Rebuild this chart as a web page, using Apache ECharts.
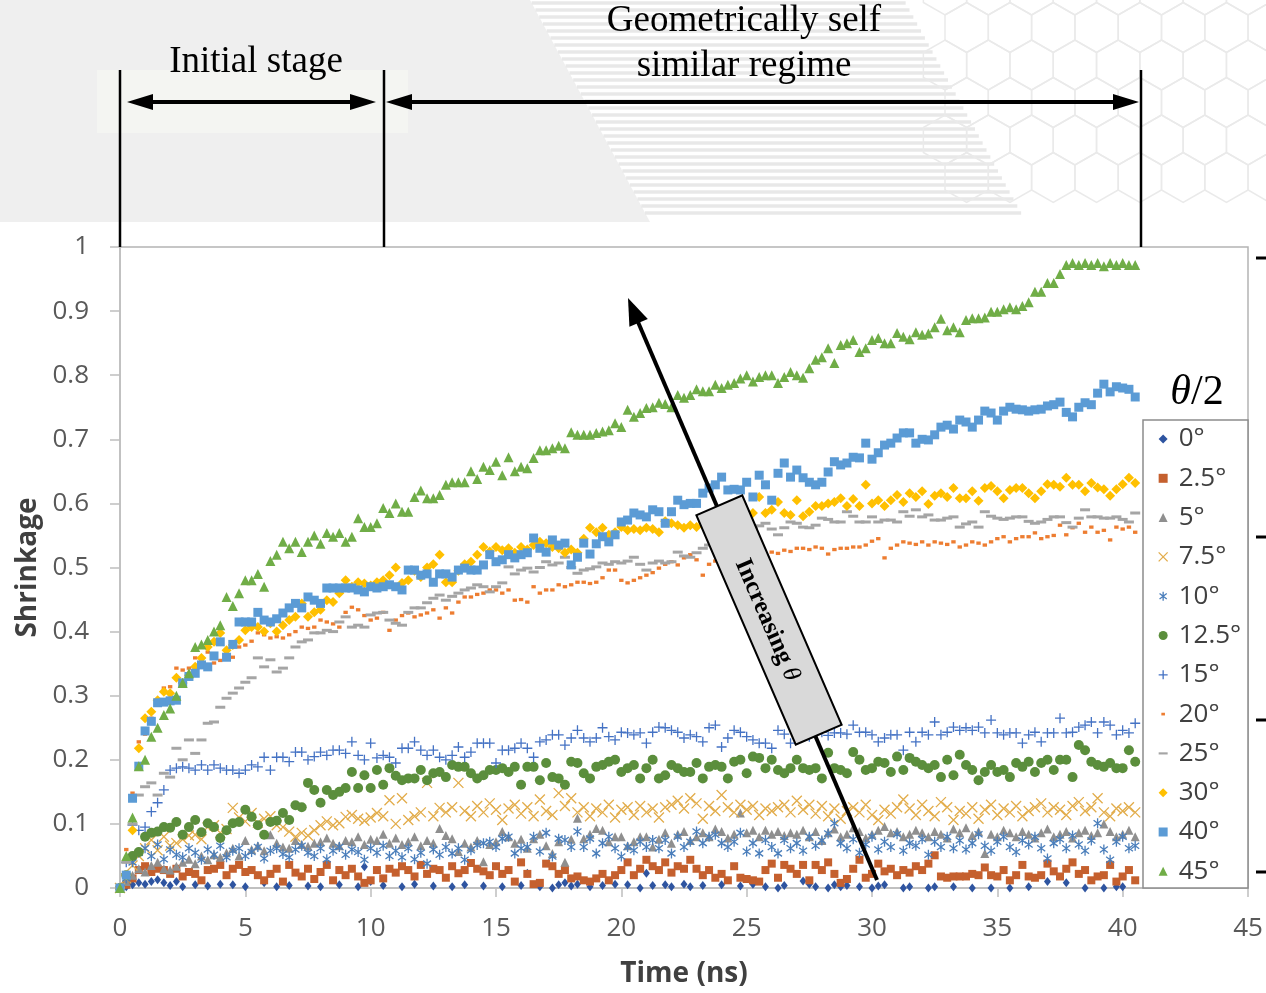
<!DOCTYPE html>
<html>
<head>
<meta charset="utf-8">
<title>Shrinkage vs time</title>
<script src="https://cdn.jsdelivr.net/npm/echarts@6/dist/echarts.min.js"></script>
<style>
  html, body { margin: 0; padding: 0; background: #fff; }
  #chart { width: 1266px; height: 993px; }
</style>
</head>
<body>
<div id="chart"></div>
<script>
// samples every DT ns, values in thousandths of shrinkage (negative ones fall below the axis)
const DT = 0.25;

const s0 = [
  0,2,5,8,6,10,13,8,4,10,2,-5,5,-5,3,-5,6,-5,5,-5,
  2,-5,-5,8,-5,2,-5,4,-5,-5,3,-5,2,-5,-5,5,-5,-5,2,33,
  10,-5,4,-5,-5,2,-5,6,-5,-5,3,-5,-5,2,-5,5,-5,-5,3,-5,
  -5,2,-5,-5,4,23,-5,2,-5,0,5,8,3,6,-5,2,-5,4,-5,6,
  -5,5,-5,0,23,4,-5,5,2,-5,6,2,-5,4,-5,-5,5,-5,-5,3,
  -5,6,-5,2,-5,0,4,-5,-5,11,6,2,-5,0,5,2,4,-5,2,-5,
  0,3,5,-5,-5,0,2,-5,-5,0,2,-5,-5,2,-5,-5,0,-5,-5,0,
  -5,-5,0,-5,-5,2,-5,-5,10,-5,-5,8,-5,-5,0,-5,-5,0,-5,2,
  2,-5,-5
];
const s2_5 = [
  0,5,15,28,34,25,30,28,22,30,18,25,22,12,28,30,36,20,30,36,
  25,28,20,12,22,30,10,36,24,18,30,14,25,36,12,28,20,30,18,8,
  12,28,15,30,24,34,28,18,36,22,30,28,16,34,23,28,39,30,26,20,
  34,22,28,10,40,22,6,8,38,34,22,28,15,18,12,10,15,22,12,20,
  28,40,20,30,44,34,28,40,24,34,30,44,30,20,28,16,22,12,34,16,
  14,12,10,28,38,16,36,30,22,36,12,36,28,40,22,8,14,30,44,16,
  22,38,26,30,20,28,24,34,28,38,51,18,16,18,18,18,22,20,32,20,
  18,28,12,20,36,18,16,20,38,26,18,30,40,22,28,12,18,20,36,10,
  18,28,12
];
const s5 = [
  0,10,20,30,25,35,40,30,28,34,40,45,38,50,44,52,48,55,62,50,
  74,60,66,58,83,70,64,62,74,68,65,70,72,78,70,66,74,72,80,68,
  76,74,84,70,78,68,72,80,66,74,70,93,82,77,57,70,64,74,41,68,
  72,88,80,70,76,62,77,84,66,54,72,40,76,109,77,84,93,90,72,80,
  80,66,72,80,80,64,76,86,70,84,88,74,80,86,80,92,88,78,84,117,
  86,90,80,90,84,88,82,86,84,90,80,88,74,86,92,80,84,94,88,78,
  84,90,96,86,88,80,84,90,86,80,88,84,78,92,86,94,82,88,54,84,
  80,90,86,80,88,84,78,86,92,80,84,88,78,86,90,82,86,100,88,80,
  84,90,80
];
const s7_5 = [
  0,15,35,50,62,75,59,80,66,70,76,82,83,76,95,98,86,92,125,110,
  104,117,102,108,112,98,95,88,80,86,82,90,98,104,98,101,111,114,108,105,
  110,117,112,137,100,140,106,112,118,164,112,125,118,126,164,120,112,128,118,132,
  122,106,124,130,116,126,112,138,120,114,148,128,140,118,126,112,124,118,130,110,
  122,126,114,128,118,124,110,126,130,136,124,140,132,108,128,120,145,126,118,130,
  122,128,114,124,120,126,130,118,136,122,130,116,128,112,124,108,120,126,118,130,
  114,106,122,116,126,138,124,114,130,120,112,134,126,106,120,116,126,108,122,130,
  114,124,118,128,112,120,126,132,118,126,122,114,128,134,120,126,140,118,112,124,
  120,126,118
];
const s10 = [
  0,15,40,55,62,50,68,45,60,52,48,62,55,44,60,52,66,48,58,62,
  50,56,64,46,58,62,53,48,60,66,55,50,62,45,58,64,52,60,56,44,
  62,55,66,50,58,48,62,45,55,38,60,52,64,54,62,44,59,67,70,72,
  64,77,80,54,62,64,80,57,86,49,77,75,64,88,64,77,54,70,80,62,
  49,64,59,72,64,75,62,75,54,80,64,72,88,70,80,83,70,64,72,86,
  57,70,54,75,64,54,75,62,70,58,80,66,74,85,101,70,62,76,55,68,
  80,60,72,64,84,58,70,66,76,52,72,64,80,62,74,60,70,84,66,58,
  72,80,64,56,74,68,80,62,46,70,76,62,82,68,58,74,101,60,44,72,
  80,62,66
];
const s12_5 = [
  0,20,50,56,80,86,88,95,94,103,83,95,106,87,101,95,78,90,101,103,
  122,111,98,83,103,105,117,106,129,126,164,153,133,153,145,150,156,181,156,176,
  156,184,161,187,175,168,171,171,184,168,179,181,173,192,189,189,179,171,176,184,
  184,187,181,189,161,189,189,168,195,173,171,161,197,195,179,171,189,192,197,200,
  181,187,192,171,187,200,171,176,192,187,181,181,195,171,189,192,189,171,197,200,
  179,205,203,187,200,184,179,187,200,187,184,187,171,211,187,184,179,212,200,184,
  187,197,195,181,205,184,203,197,192,187,192,173,200,176,208,192,184,168,181,192,
  181,184,173,195,189,197,181,195,200,184,200,200,173,223,215,197,192,189,195,187,
  187,215,197
];
const s15 = [
  0,40,98,90,95,119,133,153,184,187,189,187,184,192,184,192,187,184,184,179,
  184,192,189,204,184,204,204,197,212,212,200,205,212,207,215,215,210,228,207,200,
  226,203,207,204,195,218,218,228,215,207,215,204,200,207,220,204,212,226,226,226,
  195,215,215,218,226,218,204,228,231,239,239,223,234,246,234,228,234,250,236,231,
  243,242,239,242,226,243,251,250,246,243,234,239,236,228,250,254,220,234,246,243,
  236,231,226,226,218,246,240,226,238,242,236,240,243,238,242,242,240,254,243,243,
  239,228,234,239,239,215,243,228,243,239,259,239,243,251,246,250,246,251,242,262,
  242,239,242,242,226,239,243,228,242,242,265,242,243,251,254,259,242,259,254,239,
  246,242,257
];
const s20 = [
  0,60,148,228,240,265,290,312,314,343,340,343,359,355,368,351,355,358,360,376,
  379,385,398,395,390,392,390,395,400,407,405,407,418,415,412,407,430,438,434,425,
  418,421,430,402,418,425,429,423,426,429,434,421,437,429,446,454,454,458,460,465,
  465,460,465,449,450,446,470,460,465,465,473,470,473,477,477,475,477,484,496,496,
  480,476,480,484,488,492,499,505,509,504,515,520,512,488,505,510,512,515,518,515,
  520,518,521,520,524,522,527,525,530,530,528,532,530,521,528,530,530,532,532,535,
  541,545,515,530,535,540,538,536,540,535,540,538,536,540,532,535,540,538,535,540,
  545,548,540,545,548,548,554,545,548,550,566,551,562,569,555,563,555,558,543,563,
  560,563,555
];
const s25 = [
  0,40,100,145,158,164,145,179,173,218,200,231,210,231,257,259,282,296,304,312,
  321,328,359,345,356,337,343,359,376,384,387,398,398,402,400,415,423,407,410,407,
  426,429,430,418,413,410,430,437,437,445,452,457,449,455,460,465,468,473,470,462,
  470,476,501,490,496,499,493,500,509,504,507,516,500,491,496,498,501,507,505,509,
  507,510,516,505,496,507,510,507,509,524,518,516,523,530,535,540,545,548,555,560,
  558,562,565,569,560,551,562,571,569,563,562,566,577,575,571,571,587,580,571,571,
  579,571,574,574,571,587,580,590,579,582,574,574,577,579,563,568,571,563,587,580,
  577,575,577,579,579,572,569,571,575,579,579,570,563,577,590,579,579,577,577,579,
  575,571,585
];
const s30 = [
  0,20,90,218,265,275,293,306,304,328,320,332,345,359,376,384,398,371,379,387,
  402,407,407,400,413,400,410,418,423,444,423,430,434,449,446,460,480,470,477,475,
  472,477,480,488,500,476,480,495,485,500,505,520,477,477,495,505,509,520,532,525,
  532,527,530,523,532,528,535,540,538,532,530,523,528,523,545,562,555,562,551,555,
  563,558,560,558,562,560,555,572,569,566,562,566,563,570,575,572,578,575,580,578,
  582,585,610,585,590,602,585,582,605,580,587,596,596,600,602,608,596,607,596,629,
  600,605,596,605,613,602,616,610,619,599,612,616,610,624,608,608,619,604,624,627,
  619,608,621,624,624,616,608,619,630,629,626,640,629,629,619,632,625,622,612,622,
  630,640,632
];
const s40 = [
  0,20,140,190,245,260,289,290,292,293,320,330,335,348,345,362,384,360,380,415,
  415,415,430,418,415,420,429,437,444,437,454,449,444,468,468,468,468,468,465,462,
  470,468,470,473,470,465,496,496,488,490,477,490,490,485,496,499,496,496,504,520,
  509,512,520,515,520,523,546,530,524,543,535,538,504,516,538,521,537,548,540,551,
  571,574,585,582,579,590,587,569,587,605,598,600,600,616,624,629,641,621,622,621,
  633,610,644,629,605,647,663,641,652,640,633,629,633,649,665,660,663,672,671,694,
  669,679,691,694,702,710,710,694,700,699,707,719,722,716,730,727,719,730,744,741,
  730,744,750,747,746,744,746,747,752,754,758,742,735,750,757,754,772,786,774,782,
  780,778,766
];
const s45 = [
  0,50,110,190,200,236,250,270,280,300,320,335,376,380,387,400,410,454,440,460,
  480,480,490,470,510,520,540,530,540,524,540,550,537,554,548,554,540,548,577,563,
  563,569,593,585,600,587,587,610,620,608,608,613,629,633,633,633,650,638,657,652,
  665,644,672,650,657,655,671,683,683,686,690,686,711,707,707,707,710,712,714,725,
  719,746,735,741,749,750,757,755,750,769,765,769,778,775,775,785,780,785,788,795,
  800,790,797,800,800,788,797,805,800,796,811,824,828,842,819,847,850,855,836,842,
  855,858,850,850,866,860,856,867,863,865,875,888,870,875,867,886,889,889,890,899,
  899,903,906,903,908,914,930,930,944,944,958,972,975,972,975,972,975,970,975,972,
  975,972,972
];

const SYM_X = 'path://M0,0L10,10M10,0L0,10';
const SYM_PLUS = 'path://M5,0L5,10M0,5L10,5';
const SYM_STAR = 'path://M0,0M10,10M1,2L9,8M9,2L1,8M5,0L5,10';
const SYM_DOT = 'path://M0,0M10,10M3,3.5H7V6.5H3Z';
const SYM_DASH = 'path://M0,0M10,10M0,3.8H10V6.2H0Z';

const seriesSpec = [
  { name: '0°',    vals: s0,    symbol: 'diamond',  size: [7, 9],  icon: 'diamond',  color: '#2E54A0' },
  { name: '2.5°',  vals: s2_5,  symbol: 'rect',     size: 8,       icon: 'rect',     color: '#C5602E' },
  { name: '5°',    vals: s5,    symbol: 'triangle', size: 9,       icon: 'triangle', color: '#8F8F8F' },
  { name: '7.5°',  vals: s7_5,  symbol: SYM_X,      size: 10,      icon: SYM_X,      color: '#E2AC4A', line: true },
  { name: '10°',   vals: s10,   symbol: SYM_STAR,   size: 10,      icon: SYM_STAR,   color: '#4A7EBB', line: true },
  { name: '12.5°', vals: s12_5, symbol: 'circle',   size: 10,      icon: 'circle',   color: '#5B8E3C' },
  { name: '15°',   vals: s15,   symbol: SYM_PLUS,   size: 10,      icon: SYM_PLUS,   color: '#4472C4', line: true },
  { name: '20°',   vals: s20,   symbol: SYM_DOT,    size: 11,      icon: SYM_DOT,    color: '#ED7D31' },
  { name: '25°',   vals: s25,   symbol: 'rect',     size: [10, 3], icon: SYM_DASH,   color: '#A5A5A5' },
  { name: '30°',   vals: s30,   symbol: 'diamond',  size: 10,      icon: 'diamond',  color: '#FFC000' },
  { name: '40°',   vals: s40,   symbol: 'rect',     size: 9,       icon: 'rect',     color: '#5B9BD5' },
  { name: '45°',   vals: s45,   symbol: 'triangle', size: 10,      icon: 'triangle', color: '#70AD47' }
];

function styleOf(s) {
  return s.line
    ? { color: s.color, borderColor: s.color, borderWidth: 1.3, opacity: 1 }
    : { color: s.color, borderWidth: 0, opacity: 1 };
}

const series = seriesSpec.map(s => ({
  type: 'scatter',
  name: s.name,
  data: s.vals.map((v, i) => [i * DT, v / 1000]),
  symbol: s.symbol,
  symbolSize: s.size,
  itemStyle: styleOf(s),
  clip: true,
  emphasis: { disabled: true },
  silent: true
}));

// ---- decorations ----
const BLACK = '#000';
function arrowHead(tip, dir, len, half) {
  const [ux, uy] = dir;
  const bx = tip[0] - ux * len, by = tip[1] - uy * len;
  return {
    type: 'polygon', z: 100,
    shape: { points: [tip, [bx - uy * half, by + ux * half], [bx + uy * half, by - ux * half]] },
    style: { fill: BLACK }
  };
}
function hline(x1, x2, y, w, color) {
  return { type: 'line', z: 100, shape: { x1, y1: y, x2, y2: y }, style: { stroke: color || BLACK, lineWidth: w } };
}
function vline(x, y1, y2, w) {
  return { type: 'line', z: 100, shape: { x1: x, y1, x2: x, y2 }, style: { stroke: BLACK, lineWidth: w } };
}

const background = [];
background.push({ type: 'polygon', z: -1, shape: { points: [[0, 0], [530, 0], [650, 222], [0, 222]] }, style: { fill: '#EFEFEF' } });
for (let y = 3; y <= 219; y += 7) {
  background.push({ type: 'line', z: -1, shape: { x1: 530 + y * 0.54, y1: y, x2: 904 + y * 0.55, y2: y },
    style: { stroke: '#E8E8E8', lineWidth: 3.5 } });
}
const HR = 25, HW = HR * Math.sqrt(3);
for (let row = 0; row < 6; row++) {
  const cy = -10 + row * HR * 1.5;
  for (let col = 0; col < 10; col++) {
    const cx = 945 + col * HW + (row % 2 ? HW / 2 : 0);
    const pts = [];
    for (let k = 0; k < 6; k++) {
      const a = Math.PI / 180 * (60 * k - 30);
      pts.push([cx + HR * Math.cos(a), cy + HR * Math.sin(a)]);
    }
    background.push({ type: 'polygon', z: -1, shape: { points: pts }, style: { fill: 'none', stroke: '#EAEAEA', lineWidth: 1.5 } });
  }
}
background.push({ type: 'rect', z: -1, shape: { x: 97, y: 70, width: 311, height: 63 }, style: { fill: '#F4F5F2' } });

const SERIF = '"Liberation Serif", "DejaVu Serif", serif';
const annotations = [
  vline(120, 70, 247, 2.5), vline(384, 70, 247, 2.5), vline(1141, 70, 247, 2.5),
  hline(148, 355, 102, 4), arrowHead([127, 102], [-1, 0], 26, 8), arrowHead([376, 102], [1, 0], 26, 8),
  hline(407, 1118, 102, 4), arrowHead([386, 102], [-1, 0], 26, 8), arrowHead([1139, 102], [1, 0], 26, 8),
  { type: 'text', z: 100, x: 256, y: 62, style: { text: 'Initial stage', font: '37px ' + SERIF, fill: BLACK,
    align: 'center', verticalAlign: 'middle', textAlign: 'center', textVerticalAlign: 'middle' } },
  { type: 'text', z: 100, x: 744, y: 21, style: { text: 'Geometrically self', font: '37px ' + SERIF, fill: BLACK,
    align: 'center', verticalAlign: 'middle', textAlign: 'center', textVerticalAlign: 'middle' } },
  { type: 'text', z: 100, x: 744, y: 66, style: { text: 'similar regime', font: '37px ' + SERIF, fill: BLACK,
    align: 'center', verticalAlign: 'middle', textAlign: 'center', textVerticalAlign: 'middle' } },
  // increasing-theta arrow
  { type: 'line', z: 100, shape: { x1: 877, y1: 880, x2: 638, y2: 322 }, style: { stroke: BLACK, lineWidth: 4 } },
  arrowHead([628, 298], [-0.393, -0.919], 27, 10),
  { type: 'rect', z: 101, x: 769, y: 620, rotation: -1.162, shape: { x: -125, y: -25, width: 250, height: 50 },
    style: { fill: '#D9D9D9', stroke: BLACK, lineWidth: 2 } },
  { type: 'text', z: 102, x: 767, y: 620, rotation: -1.162,
    style: { text: 'Increasing {i|θ}', font: 'bold 25px ' + SERIF, fill: BLACK,
      rich: { i: { fontStyle: 'italic', fontWeight: 'normal', fontSize: 25, fontFamily: 'Liberation Serif' } },
      align: 'center', verticalAlign: 'middle', textAlign: 'center', textVerticalAlign: 'middle' } },
  // legend frame and title
  { type: 'rect', z: 3, shape: { x: 1143, y: 420, width: 105, height: 468 }, style: { fill: '#fff', stroke: '#8C8C8C', lineWidth: 1.5 } },
  { type: 'text', z: 100, x: 1197, y: 393,
    style: { text: '{i|θ}/2', font: '42px ' + SERIF, fill: BLACK,
      rich: { i: { fontStyle: 'italic', fontSize: 42, fontFamily: 'Liberation Serif' } },
      align: 'center', verticalAlign: 'middle', textAlign: 'center', textVerticalAlign: 'middle' } },
  // stray marks at the right edge
  hline(1256, 1266, 258, 3), hline(1256, 1266, 537, 3), hline(1256, 1266, 720, 3), hline(1256, 1266, 872, 3)
];

const LABEL = { color: '#595959', fontSize: 26, fontFamily: '"Open Sans", "Noto Sans", sans-serif' };
const NAME = { color: '#404040', fontSize: 28, fontWeight: 'bold', fontFamily: '"Open Sans", "Noto Sans", sans-serif' };

const chart = echarts.init(document.getElementById('chart'), null, { renderer: 'canvas' });
chart.setOption({
  animation: false,
  backgroundColor: '#fff',
  grid: {
    left: 120, right: 18, top: 247, bottom: 105,
    containLabel: false, outerBoundsMode: 'none',
    show: true, borderColor: '#B4B4B4', borderWidth: 1.5, backgroundColor: 'transparent'
  },
  xAxis: {
    type: 'value', min: 0, max: 45, interval: 5,
    name: 'Time (ns)', nameLocation: 'middle', nameGap: 72, nameTextStyle: NAME,
    axisLine: { show: true, lineStyle: { color: '#BFBFBF', width: 1.5 } },
    axisTick: { show: true, length: 9, lineStyle: { color: '#BFBFBF', width: 1.5 } },
    axisLabel: Object.assign({ margin: 28 }, LABEL),
    splitLine: { show: false }
  },
  yAxis: {
    type: 'value', min: 0, max: 1, interval: 0.1,
    name: 'Shrinkage', nameLocation: 'middle', nameGap: 78, nameRotate: 90, nameTextStyle: NAME,
    axisLine: { show: true, lineStyle: { color: '#BFBFBF', width: 1.5 } },
    axisTick: { show: true, length: 10, lineStyle: { color: '#BFBFBF', width: 1.5 } },
    axisLabel: Object.assign({ margin: 31 }, LABEL),
    splitLine: { show: false }
  },
  legend: {
    orient: 'vertical', left: 1158, top: 426, padding: 0,
    itemWidth: 9, itemHeight: 9, itemGap: 13.3,
    selectedMode: false,
    textStyle: { color: '#404040', fontSize: 26, lineHeight: 26, padding: [0, 0, 0, 6], fontFamily: '"Open Sans", "Noto Sans", sans-serif' },
    data: seriesSpec.map(s => ({ name: s.name, icon: s.icon, itemStyle: styleOf(s) }))
  },
  graphic: background.concat(annotations),
  series: series
});
</script>
</body>
</html>
